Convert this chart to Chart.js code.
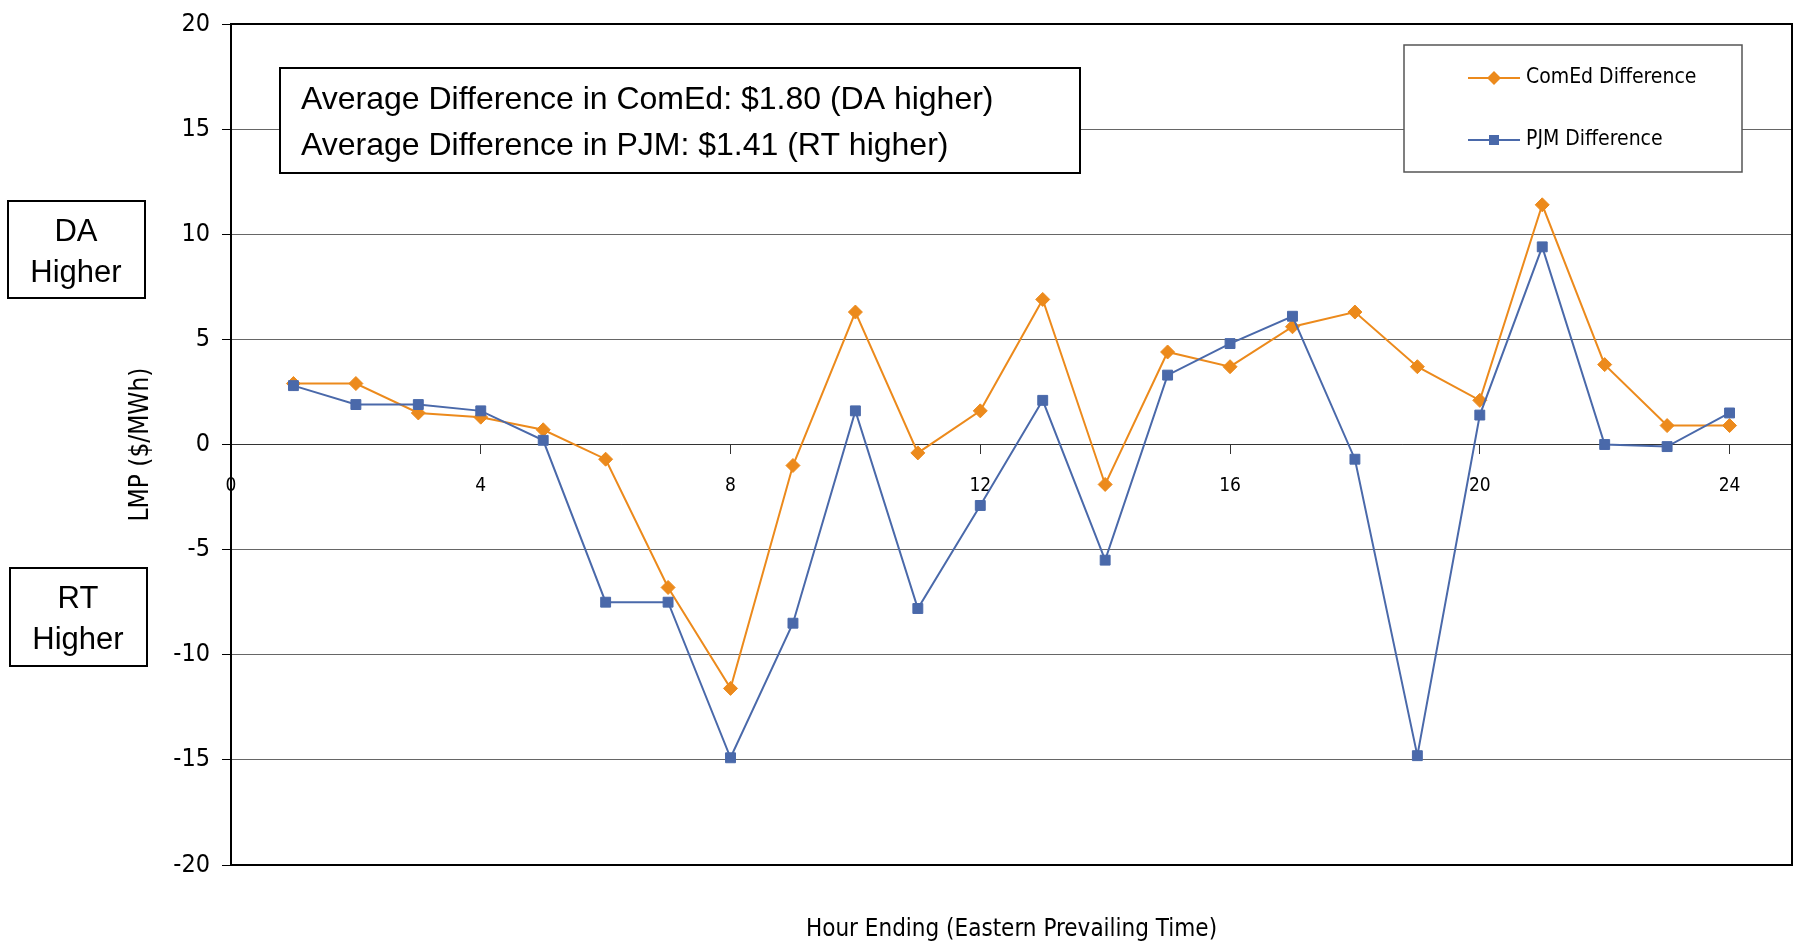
<!DOCTYPE html>
<html>
<head>
<meta charset="utf-8">
<title>ComEd / PJM DA-RT Difference</title>
<script src="https://cdn.jsdelivr.net/npm/chart.js@4.4.1/dist/chart.umd.min.js"></script>
<style>
  body { margin: 0; background: #fff; }
  #wrap { width: 1800px; height: 948px; }
</style>
</head>
<body>
<div id="wrap"><canvas id="diffChart" width="1800" height="948"></canvas></div>
<script>
// Dati
const hours = [1, 2, 3, 4, 5, 6, 7, 8, 9, 10, 11, 12, 13, 14, 15, 16, 17, 18, 19, 20, 21, 22, 23, 24];
const comedDiff = [2.9, 2.9, 1.5, 1.3, 0.7, -0.7, -6.8, -11.6, -1.0, 6.3, -0.4, 1.6, 6.9, -1.9, 4.4, 3.7, 5.6, 6.3, 3.7, 2.1, 11.4, 3.8, 0.9, 0.9];
const pjmDiff = [2.8, 1.9, 1.9, 1.6, 0.2, -7.5, -7.5, -14.9, -8.5, 1.6, -7.8, -2.9, 2.1, -5.5, 3.3, 4.8, 6.1, -0.7, -14.8, 1.4, 9.4, 0.0, -0.1, 1.5];
const seriesNames = ['ComEd Difference', 'PJM Difference'];
const avgLines = ['Average Difference in ComEd: $1.80 (DA higher)', 'Average Difference in PJM: $1.41 (RT higher)'];
const daLabel = ['DA', 'Higher'];
const rtLabel = ['RT', 'Higher'];
const xTitle = 'Hour Ending (Eastern Prevailing Time)';
const yTitle = 'LMP ($/MWh)';

const ORANGE = '#EC8A1C';
const BLUE = '#4A69AA';
const NARROW = "'Liberation Sans Narrow', 'Arial Narrow', 'DejaVu Sans Condensed', sans-serif";
const SANS = "'Liberation Sans', Arial, sans-serif";

function drawBox(ctx, x, y, w, h, color, width) {
  ctx.fillStyle = '#fff';
  ctx.fillRect(x, y, w, h);
  ctx.strokeStyle = color;
  ctx.lineWidth = width;
  ctx.strokeRect(x, y, w, h);
}

function drawMarker(ctx, style, x, y, color) {
  ctx.fillStyle = color;
  ctx.beginPath();
  if (style === 'rectRot') {
    ctx.moveTo(x - 7, y);
    ctx.lineTo(x, y - 7);
    ctx.lineTo(x + 7, y);
    ctx.lineTo(x, y + 7);
    ctx.closePath();
  } else {
    ctx.rect(x - 5, y - 5, 10, 10);
  }
  ctx.fill();
}

// Cornice, riquadri di testo e legenda
const boxesPlugin = {
  id: 'boxes',
  afterDraw(chart) {
    const ctx = chart.ctx;
    const area = chart.chartArea;
    ctx.save();

    ctx.strokeStyle = '#000';
    ctx.lineWidth = 2;
    ctx.strokeRect(area.left, area.top, area.right - area.left, area.bottom - area.top);

    drawBox(ctx, 280, 68, 800, 105, '#000', 2);
    ctx.fillStyle = '#000';
    ctx.font = '32px ' + SANS;
    ctx.textAlign = 'left';
    ctx.textBaseline = 'middle';
    ctx.fillText(avgLines[0], 301, 100);
    ctx.fillText(avgLines[1], 301, 146);

    drawBox(ctx, 8, 201, 137, 97, '#000', 2);
    drawBox(ctx, 10, 568, 137, 98, '#000', 2);
    ctx.fillStyle = '#000';
    ctx.font = '31px ' + SANS;
    ctx.textAlign = 'center';
    ctx.fillText(daLabel[0], 76, 232);
    ctx.fillText(daLabel[1], 76, 273);
    ctx.fillText(rtLabel[0], 78, 599);
    ctx.fillText(rtLabel[1], 78, 640);

    drawBox(ctx, 1404, 45, 338, 127, '#555', 1.5);
    const rows = [78, 140];
    chart.data.datasets.forEach((ds, i) => {
      const yy = rows[i];
      ctx.strokeStyle = ds.borderColor;
      ctx.lineWidth = 2;
      ctx.beginPath();
      ctx.moveTo(1468, yy);
      ctx.lineTo(1520, yy);
      ctx.stroke();
      drawMarker(ctx, ds.pointStyle, 1494, yy, ds.borderColor);
      ctx.fillStyle = '#000';
      ctx.font = '21px ' + NARROW;
      ctx.textAlign = 'left';
      ctx.fillText(ds.label, 1526, yy);
    });

    ctx.restore();
  }
};

const ctx = document.getElementById('diffChart').getContext('2d');

const diffChart = new Chart(ctx, {
  type: 'line',
  data: {
    datasets: [
      {
        label: seriesNames[0],
        data: hours.map((h, i) => ({ x: h, y: comedDiff[i] })),
        borderColor: ORANGE,
        backgroundColor: ORANGE,
        borderWidth: 2,
        pointStyle: 'rectRot',
        pointRadius: 7,
        pointBorderWidth: 1,
        tension: 0,
        order: 1
      },
      {
        label: seriesNames[1],
        data: hours.map((h, i) => ({ x: h, y: pjmDiff[i] })),
        borderColor: BLUE,
        backgroundColor: BLUE,
        borderWidth: 2,
        pointStyle: 'rect',
        pointRadius: 7,
        pointBorderWidth: 1,
        tension: 0,
        order: 0
      }
    ]
  },
  options: {
    responsive: false,
    animation: false,
    events: [],
    devicePixelRatio: 1,
    layout: { padding: { top: 24, right: 8, bottom: 0, left: 0 } },
    plugins: {
      legend: { display: false },
      tooltip: { enabled: false }
    },
    scales: {
      x: {
        type: 'linear',
        min: 0,
        max: 25,
        position: { y: 0 },
        afterBuildTicks: (scale) => {
          scale.ticks = scale.ticks.filter(t => t.value % 4 === 0);
        },
        afterFit: (scale) => {
          scale.paddingLeft = 0;
          scale.paddingRight = 0;
        },
        ticks: {
          stepSize: 4,
          padding: 21,
          maxRotation: 0,
          color: '#000',
          font: { family: NARROW, size: 19, lineHeight: 1.2 }
        },
        grid: { drawOnChartArea: false, drawTicks: true, tickLength: 9, color: '#333' },
        border: { display: true, color: '#333', width: 1 }
      },
      x2: {
        type: 'linear',
        axis: 'x',
        min: 0,
        max: 25,
        position: 'bottom',
        afterFit: (scale) => {
          scale.height = 83;
          scale.paddingLeft = 0;
          scale.paddingRight = 0;
        },
        ticks: { display: false },
        grid: { drawOnChartArea: false, drawTicks: false },
        border: { display: false },
        title: {
          display: true,
          text: xTitle,
          color: '#000',
          padding: { top: 0, bottom: 4 },
          font: { family: NARROW, size: 24, lineHeight: 1.2 }
        }
      },
      y: {
        min: -20,
        max: 20,
        afterFit: (scale) => {
          scale.width = 231;
          scale.paddingTop = 0;
          scale.paddingBottom = 0;
        },
        ticks: {
          stepSize: 5,
          padding: 12,
          color: '#000',
          font: { family: NARROW, size: 25 }
        },
        grid: { color: '#666', lineWidth: 1, tickLength: 9, tickColor: '#000' },
        border: { display: true, color: '#000', width: 2 },
        title: {
          display: true,
          text: yTitle,
          color: '#000',
          padding: { top: 126, bottom: 0 },
          font: { family: NARROW, size: 26, lineHeight: 1.2 }
        }
      }
    }
  },
  plugins: [boxesPlugin]
});
</script>
</body>
</html>
